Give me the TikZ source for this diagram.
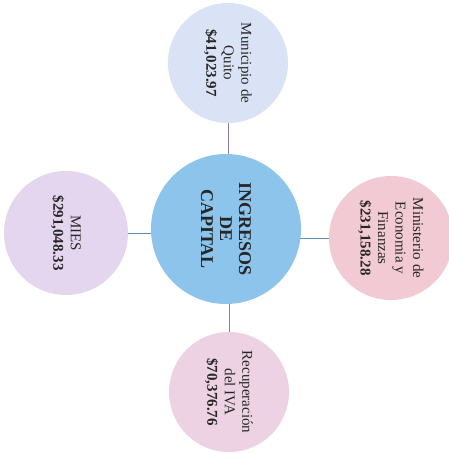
\documentclass[tikz,border=0pt]{standalone}
\usepackage{fontspec}
\setmainfont{Liberation Serif}
\usetikzlibrary{backgrounds}
\begin{document}
\begin{tikzpicture}[x=1pt,y=-1pt,
  bubble/.style={circle,inner sep=0pt,rotate=-90,align=center,text=black!85,
     font=\fontsize{15}{17.5}\selectfont},
  link/.style={draw=linkblue,line width=0.9pt}]
\definecolor{cblue}{HTML}{8CC4EC}
\definecolor{ctop}{HTML}{DAE2F5}
\definecolor{cleft}{HTML}{E4D6EE}
\definecolor{cright}{HTML}{F1CAD4}
\definecolor{cbottom}{HTML}{EDD2E4}
\definecolor{linkblue}{HTML}{5E8DB6}
\definecolor{linkpurple}{HTML}{8A7BA6}
\useasboundingbox (0,0) rectangle (449,453);
\node[bubble,fill=cblue,minimum size=150pt,font=\fontsize{18}{19}\selectfont\bfseries] (c) at (226,229) {INGRESOS\\DE\\CAPITAL};
\node[bubble,fill=ctop,minimum size=120pt] (t) at (228,63) {Municipio de\\Quito\\\textbf{\$41,023.97}};
\node[bubble,fill=cleft,minimum size=124pt] (l) at (66,233) {MIES\\\textbf{\$291,048.33}};
\node[bubble,fill=cright,minimum size=124pt] (r) at (391,238) {Ministerio de\\Economia y\\Finanzas\\\textbf{\$231,158.28}};
\node[bubble,fill=cbottom,minimum size=120pt] (b) at (229,392) {Recuperación\\del IVA\\\textbf{\$70,376.76}};
\begin{scope}[on background layer]
\fill[white] (0,0) rectangle (449,453);
\draw[link,draw=linkpurple] (t.center) -- (t.center |- c.center);
\draw[link] (l.center) -- (l.center -| c.center);
\draw[link] (r.center) -- (r.center -| c.center);
\draw[link] (b.center) -- (b.center |- c.center);
\end{scope}
\end{tikzpicture}
\end{document}
